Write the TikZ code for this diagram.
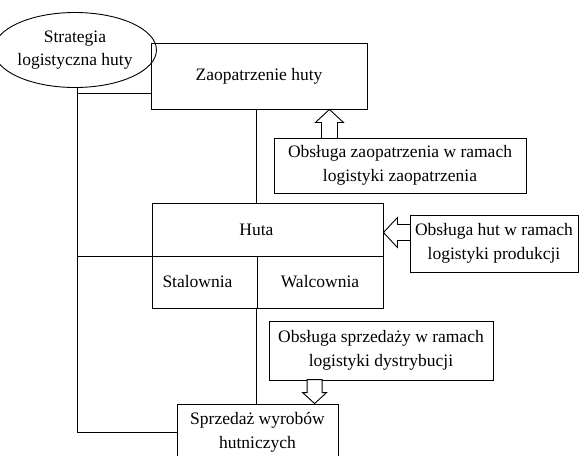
\documentclass[tikz,border=0pt]{standalone}
\usepackage{fontspec}
\setmainfont{Liberation Serif}
\usetikzlibrary{shapes.geometric,positioning,calc}

\begin{document}
\begin{tikzpicture}[x=1pt, y=-1pt, line width=0.9pt,
    box/.style={draw, rectangle, inner sep=0pt, align=center, font=\fontsize{17.5}{24}\selectfont},
    hollow/.style={draw, fill=white, line join=miter}]
    \clip (0,0) rectangle (583,455);

    % Strategia
    \node [draw, ellipse, inner sep=0pt, minimum width=136, minimum height=75, align=center,
           font=\fontsize{17.5}{23}\selectfont] (strat) at (75,50) {Strategia\\logistyczna huty};

    % Boxes
    \node [box, minimum width=216, minimum height=66] (zaop) at (259,76) {Zaopatrzenie huty};
    \node [box, minimum width=252, minimum height=55] (obsz) at (400,165.5) {Obsługa zaopatrzenia w ramach\\logistyki zaopatrzenia};
    \node [box, minimum width=231, minimum height=53] (huta) at (267.5,229.5) {\hspace*{-22pt}Huta};
    \node [box, minimum width=105, minimum height=52] (stal) at (204.5,282) {\hspace*{-14pt}Stalownia};
    \node [box, minimum width=126, minimum height=52] (walc) at (320,282) {Walcownia};
    \node [box, minimum width=168, minimum height=57] (obsh) at (494,243.5) {Obsługa hut w ramach\\logistyki produkcji};
    \node [box, minimum width=224, minimum height=59] (obss) at (381,350.5) {Obsługa sprzedaży w ramach\\logistyki dystrybucji};
    \node [box, minimum width=161, minimum height=56] (sprz) at (257.5,432) {Sprzedaż wyrobów\\hutniczych};

    % Lines
    \coordinate (trunk) at ($(strat.south)+(2,0)$);
    \coordinate (zbranch) at ($(zaop.south west)+(0,-16)$);
    \draw (trunk) -- (trunk |- sprz.west) -- (sprz.west);
    \draw (trunk |- zbranch) -- (zbranch);
    \draw (trunk |- huta.south west) -- (huta.south west);
    \draw (zaop.south -| walc.north west) -- (huta.north -| walc.north west);
    \draw (walc.south west) -- (walc.south west |- sprz.north);

    % Block arrows
    \draw [hollow] ($(zaop.south east)+(-38,0)$) -- ++(14,13) -- ++(-6,0) -- ++(0,16)
        -- ++(-16,0) -- ++(0,-16) -- ++(-6,0) -- cycle;
    \draw [hollow] ($(huta.east)+(0,3)$) -- ++(14,-15) -- ++(0,7) -- ++(13,0) -- ++(0,16)
        -- ++(-13,0) -- ++(0,7) -- cycle;
    \draw [hollow] ($(sprz.north west)+(138,0)$) -- ++(-12,-11) -- ++(4.5,0) -- ++(0,-13)
        -- ++(15,0) -- ++(0,13) -- ++(4.5,0) -- cycle;
\end{tikzpicture}
\end{document}
